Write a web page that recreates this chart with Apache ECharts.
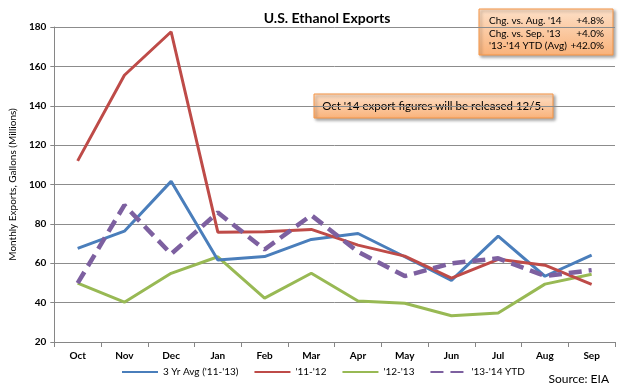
<!DOCTYPE html>
<html>
<head>
<meta charset="utf-8">
<script src="https://cdn.jsdelivr.net/npm/echarts@6/dist/echarts.min.js"></script>
<style>
html,body{margin:0;padding:0;background:#fff;}
#chart{width:628px;height:388px;}
</style>
</head>
<body>
<div id="chart"></div>
<script>
var categories = ['Oct','Nov','Dec','Jan','Feb','Mar','Apr','May','Jun','Jul','Aug','Sep'];
var avg3yr = [67.6, 76.3, 101.6, 61.6, 63.4, 72.1, 75.1, 63.3, 51.3, 73.8, 53.4, 64.1];
var y1112 = [112.0, 155.5, 177.6, 75.8, 76.0, 77.2, 69.2, 63.6, 52.4, 62.0, 59.0, 49.3];
var y1213 = [49.9, 40.2, 54.9, 63.3, 42.3, 54.9, 40.8, 39.7, 33.3, 34.7, 49.4, 54.4];
var y1314 = [49.9, 89.5, 64.7, 85.8, 67.0, 84.4, 65.8, 53.5, 60.0, 62.5, 53.5, 56.5];
var seriesNames = ["3 Yr Avg ('11-'13)", "'11-'12", "'12-'13", "'13-'14 YTD"];
var statLabels = ["Chg. vs. Aug. '14", "Chg. vs. Sep. '13", "'13-'14 YTD (Avg)"];
var statValues = ["+4.8%", "+4.0%", "+42.0%"];
var noteText = "Oct '14 export figures will be released 12/5.";

var FONT = 'Lato';
var chart = echarts.init(document.getElementById('chart'), null, {renderer: 'canvas'});

function boxFill() {
  return new echarts.graphic.LinearGradient(0, 0, 0, 1, [
    {offset: 0, color: '#fde0c8'},
    {offset: 1, color: '#f9b27a'}
  ]);
}

var statChildren = [{
  type: 'rect', shape: {x: 0, y: 0, width: 134, height: 46},
  style: {fill: boxFill(), stroke: '#f79646', lineWidth: 1,
    shadowBlur: 3, shadowOffsetX: 2, shadowOffsetY: 2, shadowColor: 'rgba(0,0,0,0.35)'}
}];
for (var i = 0; i < statLabels.length; i++) {
  statChildren.push({type: 'text', x: 10, y: 12 + i * 12.5,
    style: {text: statLabels[i], font: '10px ' + FONT, fill: '#000', verticalAlign: 'middle', textAlign: 'left'}});
  statChildren.push({type: 'text', x: 125, y: 12 + i * 12.5,
    style: {text: statValues[i], font: '10px ' + FONT, fill: '#000', verticalAlign: 'middle', textAlign: 'right'}});
}

var option = {
  animation: false,
  backgroundColor: '#fff',
  title: {
    text: 'U.S. Ethanol Exports', left: 322, top: 6, textAlign: 'center',
    textStyle: {fontFamily: FONT, fontSize: 14, fontWeight: 'bold', color: '#000'}
  },
  grid: {left: 50, right: 13, top: 27, bottom: 46},
  legend: {
    bottom: 6, left: 116, itemWidth: 36, itemHeight: 10, itemGap: 15,
    itemStyle: {opacity: 0},
    textStyle: {fontFamily: FONT, fontSize: 10, color: '#000'},
    data: seriesNames
  },
  xAxis: {
    type: 'category', data: categories, boundaryGap: true,
    axisLine: {lineStyle: {color: '#868686', width: 1}},
    axisTick: {show: true, alignWithLabel: false, length: 5, lineStyle: {color: '#868686'}},
    axisLabel: {fontFamily: FONT, fontSize: 10, fontWeight: 'bold', color: '#000', margin: 9}
  },
  yAxis: {
    type: 'value', min: 20, max: 180, interval: 20,
    name: 'Monthly Exports, Gallons (Millions)', nameLocation: 'middle', nameGap: 32,
    nameTextStyle: {fontFamily: FONT, fontSize: 10, color: '#000'},
    axisLine: {show: true, lineStyle: {color: '#868686'}},
    axisTick: {show: true, length: 4, lineStyle: {color: '#868686'}},
    axisLabel: {fontFamily: FONT, fontSize: 10, fontWeight: 'bold', color: '#000', margin: 8},
    splitLine: {lineStyle: {color: '#8c8c8c', width: 1}}
  },
  series: [
    {name: seriesNames[0], type: 'line', data: avg3yr, symbol: 'none', color: '#4a7ebb',
      lineStyle: {width: 3, color: '#4a7ebb'}, z: 3},
    {name: seriesNames[1], type: 'line', data: y1112, symbol: 'none', color: '#be4b48',
      lineStyle: {width: 3, color: '#be4b48'}, z: 4},
    {name: seriesNames[2], type: 'line', data: y1213, symbol: 'none', color: '#98b954',
      lineStyle: {width: 3, color: '#98b954'}, z: 2},
    {name: seriesNames[3], type: 'line', data: y1314, symbol: 'none', color: '#7d60a0',
      lineStyle: {width: 4.5, color: '#7d60a0', type: [13, 7]}, z: 5}
  ],
  graphic: [
    {type: 'group', x: 479, y: 9, children: statChildren, z: 100},
    {type: 'group', x: 314, y: 94, z: 100, children: [
      {type: 'rect', shape: {x: 0, y: 0, width: 239, height: 24},
        style: {fill: boxFill(), stroke: '#f79646', lineWidth: 1,
          shadowBlur: 3, shadowOffsetX: 2, shadowOffsetY: 2, shadowColor: 'rgba(0,0,0,0.35)'}},
      {type: 'text', x: 119, y: 12,
        style: {text: noteText, font: '11.5px ' + FONT, fill: '#000', textAlign: 'center', verticalAlign: 'middle'}}
    ]},
    {type: 'text', right: 19, bottom: 3,
      style: {text: 'Source: EIA', font: '12px ' + FONT, fill: '#000'}}
  ]
};
chart.setOption(option);
</script>
</body>
</html>
